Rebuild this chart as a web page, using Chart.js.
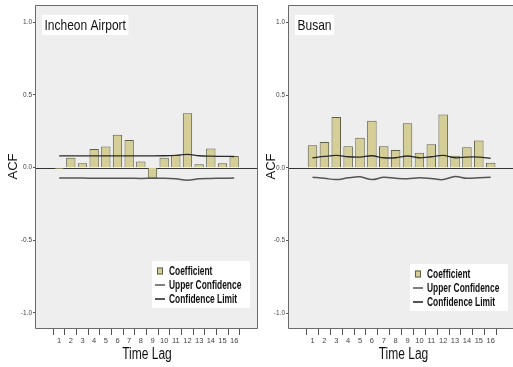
<!DOCTYPE html>
<html>
<head>
<meta charset="utf-8">
<script src="https://cdn.jsdelivr.net/npm/chart.js@4.4.1/dist/chart.umd.min.js"></script>
<style>
  body { margin: 0; background: #fff; width: 513px; height: 367px; overflow: hidden; position: relative; }
  canvas { position: absolute; top: 0; }
</style>
</head>
<body>
<canvas id="incheon" width="260" height="367" style="left:0"></canvas>
<canvas id="busan" width="255" height="367" style="left:258px"></canvas>
<script>
const lags = [1, 2, 3, 4, 5, 6, 7, 8, 9, 10, 11, 12, 13, 14, 15, 16];
const yTicks = [-1.0, -0.5, 0.0, 0.5, 1.0];
const seriesNames = ["Coefficient", "Upper Confidence", "Confidence Limit"];
const xTitle = "Time Lag";

const incheonAcf   = [-0.01, 0.067, 0.03, 0.128, 0.145, 0.225, 0.19, 0.041, -0.071, 0.067, 0.087, 0.374, 0.023, 0.131, 0.03, 0.08];
const incheonUpper = [0.080, 0.080, 0.080, 0.080, 0.080, 0.080, 0.080, 0.080, 0.080, 0.081, 0.084, 0.090, 0.081, 0.078, 0.077, 0.076];
const incheonLower = [-0.073, -0.073, -0.073, -0.074, -0.074, -0.074, -0.074, -0.075, -0.074, -0.074, -0.078, -0.087, -0.077, -0.075, -0.074, -0.073];

const busanAcf   = [0.155, 0.178, 0.349, 0.148, 0.206, 0.323, 0.148, 0.122, 0.307, 0.104, 0.162, 0.367, 0.083, 0.141, 0.187, 0.035];
const busanUpper = [0.069, 0.078, 0.085, 0.076, 0.074, 0.083, 0.069, 0.069, 0.081, 0.069, 0.076, 0.085, 0.069, 0.074, 0.074, 0.065];
const busanLower = [-0.065, -0.072, -0.081, -0.069, -0.062, -0.081, -0.065, -0.072, -0.076, -0.069, -0.074, -0.081, -0.060, -0.072, -0.069, -0.065];

const sans = "'Liberation Sans', Arial, sans-serif";

function points(values) {
  return lags.map((lag, i) => ({ x: lag, y: values[i] }));
}

// the reference uses a condensed face, so squeeze the text horizontally
function narrowText(ctx, text, x, y, squeeze, align) {
  ctx.save();
  ctx.translate(x, y);
  ctx.scale(squeeze, 1);
  ctx.textAlign = align || "left";
  ctx.fillText(text, 0, 0);
  ctx.restore();
}

// plot background, zero line, frame, title box, x title and the legend
const panelDecor = {
  id: "panelDecor",
  beforeDraw(chart) {
    let a = chart.chartArea;
    let ctx = chart.ctx;
    ctx.save();
    ctx.fillStyle = "#eeeeee";
    ctx.fillRect(a.left, a.top, a.right - a.left, a.bottom - a.top);
    ctx.restore();
  },
  beforeDatasetsDraw(chart) {
    let a = chart.chartArea;
    let ctx = chart.ctx;
    let y0 = Math.round(chart.scales.y.getPixelForValue(0)) + 0.5;
    ctx.save();
    ctx.strokeStyle = "#333";
    ctx.lineWidth = 1;
    ctx.beginPath();
    ctx.moveTo(a.left, y0);
    ctx.lineTo(a.right, y0);
    ctx.stroke();
    ctx.restore();
  },
  afterDraw(chart, args, opts) {
    let a = chart.chartArea;
    let ctx = chart.ctx;
    ctx.save();

    // frame
    ctx.strokeStyle = "#6a6a6a";
    ctx.lineWidth = 1;
    let l = Math.round(a.left) - 0.5, t = Math.round(a.top) + 0.5;
    let r = Math.round(a.right) - 0.5, b = Math.round(a.bottom) + 0.5;
    ctx.beginPath();
    ctx.moveTo(opts.rightBorder ? r : r + 5, t);
    ctx.lineTo(l, t);
    ctx.lineTo(l, b);
    ctx.lineTo(opts.rightBorder ? r : r + 5, b);
    if (opts.rightBorder) { ctx.lineTo(r, t); }
    ctx.stroke();

    // panel title
    ctx.font = "15px " + sans;
    ctx.textBaseline = "middle";
    let tw = ctx.measureText(opts.title).width * 0.8;
    ctx.fillStyle = "#fff";
    ctx.fillRect(a.left + 6, a.top + 10, tw + 5, 20);
    ctx.fillStyle = "#111";
    narrowText(ctx, opts.title, a.left + 8.5, a.top + 20.5, 0.8);

    // x axis title
    ctx.font = "16px " + sans;
    narrowText(ctx, xTitle, (a.left + (opts.rightBorder ? a.right : a.right + 5)) / 2, 355, 0.75, "center");

    // legend
    let lx = a.right - opts.legendRight - 98, ly = a.bottom - opts.legendBottom - 47;
    ctx.fillStyle = "#fff";
    ctx.fillRect(lx, ly, 98, 47);
    let ds = chart.data.datasets;
    ctx.font = "bold 12px " + sans;
    for (let i = 0; i < ds.length; i++) {
      let cy = ly + 10 + i * 14;
      if (i == 0) {
        ctx.fillStyle = ds[i].backgroundColor;
        ctx.fillRect(lx + 5, cy - 3.5, 6, 7);
        ctx.strokeStyle = ds[i].borderColor;
        ctx.lineWidth = 1;
        ctx.strokeRect(lx + 5.5, cy - 3, 5, 6);
      } else {
        ctx.strokeStyle = ds[i].borderColor;
        ctx.lineWidth = i == 1 ? 1.2 : 2;
        ctx.beginPath();
        ctx.moveTo(lx + 3, cy);
        ctx.lineTo(lx + 13, cy);
        ctx.stroke();
      }
      ctx.fillStyle = "#111";
      narrowText(ctx, ds[i].label, lx + 17, cy + 0.5, 0.7);
    }
    ctx.restore();
  }
};

function makeChart(el, acf, upper, lower, cfg) {
  return new Chart(el, {
    type: "bar",
    data: {
      datasets: [
        {
          label: seriesNames[0],
          data: points(acf),
          backgroundColor: "#d5ce96",
          borderColor: "#5f5f45",
          borderWidth: 1,
          categoryPercentage: 1,
          barPercentage: 0.8,
          order: 2
        },
        {
          type: "line",
          label: seriesNames[1],
          data: points(upper),
          borderColor: "#2a2a2a",
          borderWidth: 1.3,
          pointRadius: 0,
          tension: 0.35,
          order: 1
        },
        {
          type: "line",
          label: seriesNames[2],
          data: points(lower),
          borderColor: "#555555",
          borderWidth: 1.5,
          pointRadius: 0,
          tension: 0.35,
          order: 1
        }
      ]
    },
    options: {
      responsive: false,
      animation: false,
      devicePixelRatio: 1,
      layout: { padding: { left: 0, top: 5, right: cfg.padRight, bottom: 0 } },
      plugins: {
        legend: { display: false },
        tooltip: { enabled: false },
        panelDecor: cfg.decor
      },
      scales: {
        x: {
          type: "linear",
          min: -0.39,
          max: cfg.xMax,
          afterBuildTicks: (s) => { s.ticks = lags.map(v => ({ value: v })); },
          afterFit: (s) => { s.height = 39; },
          border: { display: false },
          grid: { drawOnChartArea: false, drawTicks: true, tickLength: 7, color: "#555" },
          ticks: { autoSkip: false, maxRotation: 0, padding: 1, color: "#444", font: { size: 7.5, family: sans } }
        },
        y: {
          min: cfg.yMin,
          max: 1.119,
          afterBuildTicks: (s) => { s.ticks = yTicks.map(v => ({ value: v })); },
          afterFit: (s) => { s.width = cfg.yWidth; },
          border: { display: false },
          grid: { drawOnChartArea: false, drawTicks: true, tickLength: 3, color: "#555" },
          ticks: { padding: 1, color: "#444", font: { size: 6.5, family: sans }, callback: (v) => v.toFixed(1) },
          title: { display: true, text: "ACF", color: "#111", font: { size: 13, family: sans }, padding: { top: 6, bottom: 0 } }
        }
      }
    },
    plugins: [panelDecor]
  });
}

makeChart(document.getElementById("incheon"), incheonAcf, incheonUpper, incheonLower, {
  padRight: 2, xMax: 17.45, yMin: -1.105, yWidth: 36,
  decor: { title: "Incheon Airport", rightBorder: true, legendRight: 8, legendBottom: 20 }
});

makeChart(document.getElementById("busan"), busanAcf, busanUpper, busanLower, {
  padRight: 0, xMax: 17.29, yMin: -1.101, yWidth: 31,
  decor: { title: "Busan", rightBorder: false, legendRight: 5, legendBottom: 17 }
});
</script>
</body>
</html>
